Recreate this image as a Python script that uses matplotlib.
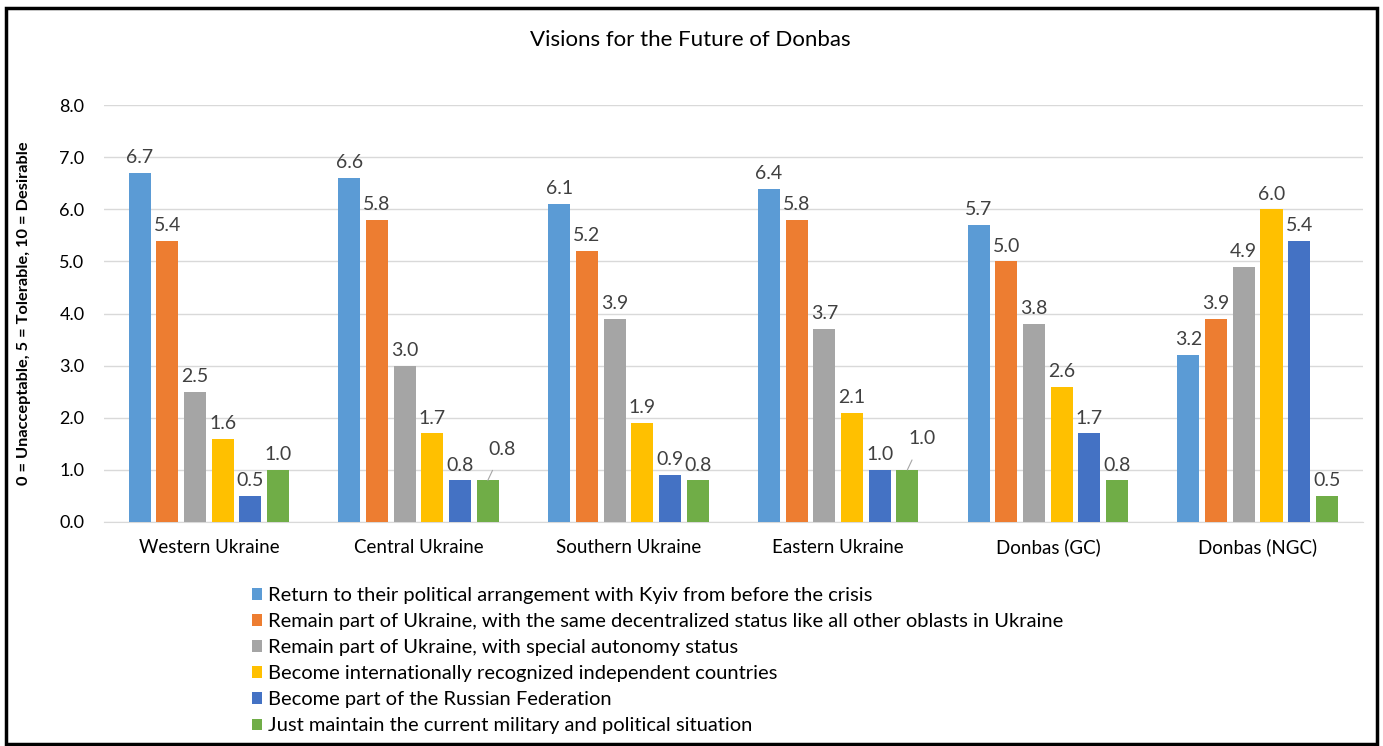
import matplotlib
matplotlib.use('Agg')
import numpy as np
import matplotlib.pyplot as plt
from matplotlib.patches import Rectangle

plt.rcParams['font.family'] = ['Lato', 'DejaVu Sans']

regions = ['Western Ukraine', 'Central Ukraine', 'Southern Ukraine',
           'Eastern Ukraine', 'Donbas (GC)', 'Donbas (NGC)']
series_names = [
    'Return to their political arrangement with Kyiv from before the crisis',
    'Remain part of Ukraine, with the same decentralized status like all other oblasts in Ukraine',
    'Remain part of Ukraine, with special autonomy status',
    'Become internationally recognized independent countries',
    'Become part of the Russian Federation',
    'Just maintain the current military and political situation',
]
return_kyiv = [6.7, 6.6, 6.1, 6.4, 5.7, 3.2]
same_status = [5.4, 5.8, 5.2, 5.8, 5.0, 3.9]
autonomy = [2.5, 3.0, 3.9, 3.7, 3.8, 4.9]
independent = [1.6, 1.7, 1.9, 2.1, 2.6, 6.0]
russia = [0.5, 0.8, 0.9, 1.0, 1.7, 5.4]
status_quo = [1.0, 0.8, 0.8, 1.0, 0.8, 0.5]
series = [return_kyiv, same_status, autonomy, independent, russia, status_quo]
colors = ['#5B9BD5', '#ED7D31', '#A5A5A5', '#FFC000', '#4472C4', '#70AD47']

fig = plt.figure(figsize=(13.83, 7.46), dpi=100)
ax = fig.add_axes([0.0752, 0.3003, 0.910, 0.5587])

x = np.arange(len(regions))
step = 0.132
w = 0.105
handles = []
for i, (vals, c, name) in enumerate(zip(series, colors, series_names)):
    pos = x + (i - 2.5) * step
    b = ax.bar(pos, vals, width=w, color=c, label=name, zorder=3)
    handles.append(b)
    for j, (p, v) in enumerate(zip(pos, vals)):
        # Excel moved two labels aside with leader lines
        if i == 5 and j in (1, 3):
            ax.annotate('%.1f' % v, xy=(p, v), xytext=(p + 0.07, v + 0.6),
                        ha='center', va='center', fontsize=14, color='#404040',
                        arrowprops=dict(arrowstyle='-', color='#A6A6A6', lw=0.8,
                                        shrinkA=8, shrinkB=0))
        else:
            ax.text(p, v + 0.13, '%.1f' % v, ha='center', va='bottom',
                    fontsize=14, color='#404040')

ax.set_xlim(-0.5, 5.5)
ax.set_ylim(0, 8)
ax.set_yticks(np.arange(0, 8.1, 1.0))
ax.set_yticklabels(['%.1f' % t for t in np.arange(0, 8.1, 1.0)])
ax.set_xticks(x)
ax.set_xticklabels(regions)
ax.tick_params(axis='both', length=0, labelsize=13.5, colors='#000000')
ax.tick_params(axis='y', labelsize=13, pad=14)
ax.tick_params(axis='x', pad=12)
ax.grid(axis='y', color='#D9D9D9', lw=1, zorder=0)
for s in ['top', 'right', 'left']:
    ax.spines[s].set_visible(False)
ax.spines['bottom'].set_color('#D9D9D9')

ax.set_ylabel('0 = Unacceptable, 5 = Tolerable, 10 = Desirable',
              fontsize=11.8, fontweight='bold')
ax.yaxis.set_label_coords(-0.058, 0.5)

fig.text(0.499, 0.946, 'Visions for the Future of Donbas', ha='center',
         va='center', fontsize=16, color='#000000')

fig.legend(handles=handles, labels=series_names, loc='upper left',
           bbox_to_anchor=(0.182, 0.213), frameon=False, fontsize=14.5,
           handlelength=0.5, handleheight=0.5, handletextpad=0.3,
           labelspacing=0.45, borderaxespad=0, borderpad=0)

fig.patches.append(Rectangle((0.004, 0.003), 0.992, 0.986, transform=fig.transFigure,
                             fill=False, edgecolor='black', lw=2.5))

fig.savefig('out.png', dpi=100)
